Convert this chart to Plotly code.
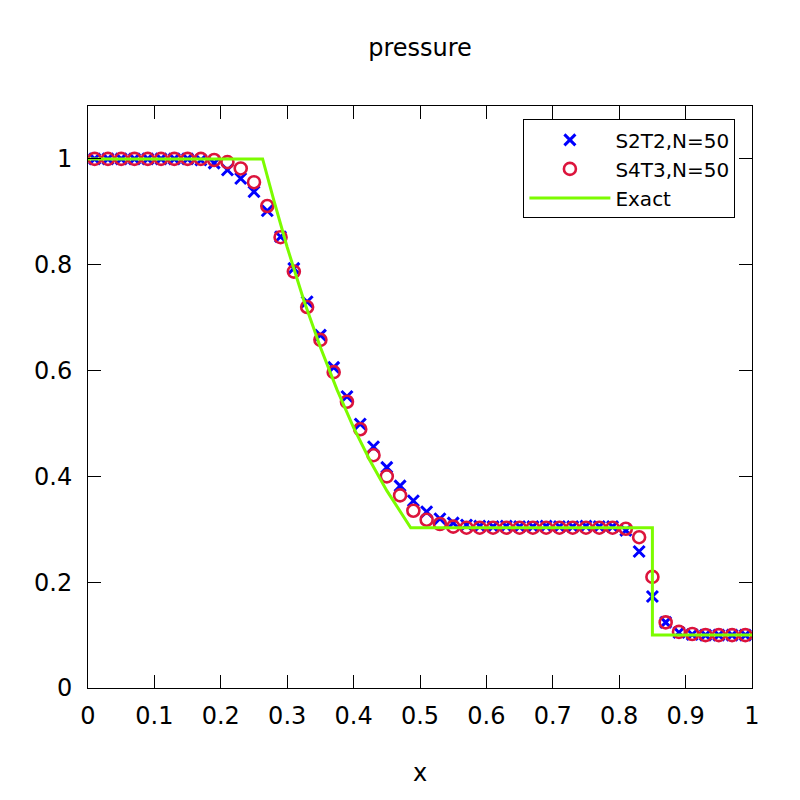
import plotly.graph_objects as go

# cell centres (N=50)
x_cells = [0.01, 0.03, 0.05, 0.07, 0.09, 0.11, 0.13, 0.15, 0.17, 0.19,
           0.21, 0.23, 0.25, 0.27, 0.29, 0.31, 0.33, 0.35, 0.37, 0.39,
           0.41, 0.43, 0.45, 0.47, 0.49, 0.51, 0.53, 0.55, 0.57, 0.59,
           0.61, 0.63, 0.65, 0.67, 0.69, 0.71, 0.73, 0.75, 0.77, 0.79,
           0.81, 0.83, 0.85, 0.87, 0.89, 0.91, 0.93, 0.95, 0.97, 0.99]

p_s2t2 = [1.0, 1.0, 1.0, 1.0, 1.0, 1.0, 1.0, 1.0, 0.998, 0.992,
          0.979, 0.963, 0.938, 0.902, 0.853, 0.793, 0.730, 0.667, 0.606, 0.551,
          0.499, 0.456, 0.417, 0.382, 0.354, 0.333, 0.320, 0.312, 0.308, 0.306,
          0.305, 0.306, 0.305, 0.305, 0.306, 0.305, 0.305, 0.306, 0.305, 0.305,
          0.298, 0.258, 0.173, 0.124, 0.105, 0.101, 0.100, 0.100, 0.100, 0.100]

p_s4t3 = [1.0, 1.0, 1.0, 1.0, 1.0, 1.0, 1.0, 1.0, 1.0, 0.998,
          0.994, 0.982, 0.956, 0.911, 0.852, 0.787, 0.720, 0.658, 0.597, 0.541,
          0.489, 0.440, 0.400, 0.364, 0.335, 0.318, 0.310, 0.305, 0.303, 0.303,
          0.303, 0.303, 0.303, 0.303, 0.303, 0.303, 0.303, 0.303, 0.303, 0.303,
          0.301, 0.285, 0.210, 0.124, 0.106, 0.102, 0.100, 0.100, 0.100, 0.100]

x_exact = [0.0, 0.263, 0.28, 0.30, 0.325, 0.35, 0.375, 0.40, 0.425, 0.45, 0.486, 0.85, 0.85, 1.0]
p_exact = [1.0, 1.0, 0.921, 0.833, 0.733, 0.644, 0.564, 0.492, 0.429, 0.373, 0.303, 0.303, 0.1, 0.1]

FONT = "DejaVu Sans"

fig = go.Figure()
fig.add_trace(go.Scatter(x=x_cells, y=p_s2t2, mode='markers', name='S2T2,N=50',
                         marker=dict(symbol='x-thin-open', size=11, color='#0000ff',
                                     line=dict(width=3, color='#0000ff'))))
fig.add_trace(go.Scatter(x=x_cells, y=p_s4t3, mode='markers', name='S4T3,N=50',
                         marker=dict(symbol='circle-open', size=12, color='#dc143c',
                                     line=dict(width=2.6, color='#dc143c'))))
fig.add_trace(go.Scatter(x=x_exact, y=p_exact, mode='lines', name='Exact',
                         line=dict(color='#7cfc00', width=3)))

axis_common = dict(showgrid=False, zeroline=False, showline=True, linecolor='black',
                   linewidth=1, mirror='ticks', ticks='inside', ticklen=13,
                   tickcolor='black', tickfont=dict(size=24, color='black'))

# page body adds an 8px offset, margins are corrected for that
fig.update_layout(
    width=800, height=800,
    paper_bgcolor='white', plot_bgcolor='white',
    font=dict(family=FONT, color='black'),
    margin=dict(l=80, r=56, t=98, b=120),
    title=dict(text='pressure', x=0.515, xanchor='center', y=0.95, yanchor='middle',
               font=dict(size=24, color='black')),
    xaxis=dict(range=[0, 1], dtick=0.1, tick0=0, ticklabelstandoff=6,
               title=dict(text='x', font=dict(size=24), standoff=35), **axis_common),
    yaxis=dict(range=[0, 1.1], tickvals=[0, 0.2, 0.4, 0.6, 0.8, 1], ticklabelstandoff=10,
               **axis_common),
    legend=dict(x=0.975, y=0.977, xanchor='right', yanchor='top',
                bgcolor='white', bordercolor='black', borderwidth=1,
                font=dict(size=20, color='black'), itemwidth=81),
    showlegend=True,
)

fig.write_html("out.html")
